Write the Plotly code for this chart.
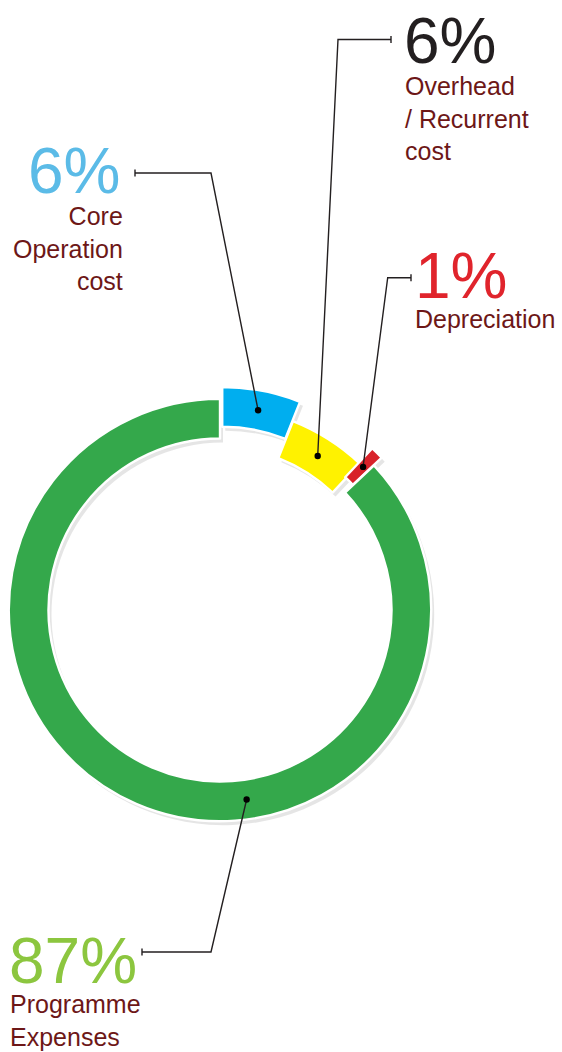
import math
import plotly.graph_objects as go

# ---------------- data ----------------
categories = ["Core Operation cost", "Overhead / Recurrent cost", "Depreciation", "Programme Expenses"]
shares = [6, 6, 1, 87]
pct_labels = ["6%", "6%", "1%", "87%"]
name_labels = ["Core<br>Operation<br>cost", "Overhead<br>/ Recurrent<br>cost", "Depreciation", "Programme<br>Expenses"]

# ---------------- style ----------------
slice_colors = ["#00aeef", "#fff200", "#d8222a", "#34a84b"]
pct_colors = ["#5bbbe7", "#231f20", "#e0242c", "#8cc63f"]
name_color = "#6d1717"
line_color = "#231f20"

W, H = 562, 1052
CX, CY = 220, 610          # ring centre (px)
R_OUT = 211.2              # pie radius (px)
HOLE = 0.812
ROT = 0
SHIFT = [12, -9, 11, 0]    # radial offset of each segment (px)
LW = 2.4
SHADOW = (3, 4)
GREEN_DOT_ANGLE = 172

PCT_FONT = "Liberation Sans Narrow, Arial Narrow, Liberation Sans, Arial"
NAME_FONT = "Liberation Sans, Arial"
PCT_SIZE = 64
NAME_SIZE = 25

# label layout: (pct anchor x, pct baseline, name anchor x, first name baseline, side)
label_pos = [
    (123, 193, 125, 225, "right"),
    (402, 63, 403, 95, "left"),
    (413, 298, 412.5, 328, "left"),
    (7, 983, 8, 1013, "left"),
]
# leader: (end x, y, corner x)
leaders = [
    (135, 173, 211),
    (391, 39.5, 338),
    (411, 277.7, 387.7),
    (142, 952, 211),
]


def fx(x):
    return x / W


def fy(y):
    return 1 - y / H


total = sum(shares)
starts, mids = [], []
acc = 0
for v in shares:
    starts.append(ROT + 360 * acc / total)
    mids.append(ROT + 360 * (acc + v / 2) / total)
    acc += v

fig = go.Figure()
centres = []
for i in range(len(shares)):
    a = math.radians(mids[i])
    cx = CX + SHIFT[i] * math.sin(a)
    cy = CY - SHIFT[i] * math.cos(a)
    centres.append((cx, cy))


def add_pie(i, cx, cy, color, lw, lcolor):
    cols = [color if j == i else "rgba(0,0,0,0)" for j in range(len(shares))]
    lcols = [lcolor if j == i else "rgba(0,0,0,0)" for j in range(len(shares))]
    fig.add_trace(go.Pie(
        labels=categories, values=shares, sort=False, direction="clockwise",
        rotation=ROT, hole=HOLE,
        domain=dict(x=[fx(cx - R_OUT), fx(cx + R_OUT)], y=[fy(cy + R_OUT), fy(cy - R_OUT)]),
        marker=dict(colors=cols, line=dict(color=lcols, width=lw)),
        textinfo="none", hoverinfo="skip", showlegend=False,
    ))


# shadows
for i in range(len(shares)):
    cx, cy = centres[i]
    add_pie(i, cx + SHADOW[0], cy + SHADOW[1], "rgba(0,0,0,0.10)", 0, "rgba(0,0,0,0)")
# segments
for i in range(len(shares)):
    cx, cy = centres[i]
    add_pie(i, cx, cy, slice_colors[i], LW, "white")

shapes = []
annotations = []
r_mid = R_OUT * (1 + HOLE) / 2
for i in range(len(shares)):
    ang = mids[i] if i < 3 else GREEN_DOT_ANGLE
    a = math.radians(ang)
    cx, cy = centres[i]
    dx = cx + r_mid * math.sin(a)
    dy = cy - r_mid * math.cos(a)
    ex, ey, kx = leaders[i]
    shapes.append(dict(type="path", xref="paper", yref="paper",
                       path=f"M {fx(dx)} {fy(dy)} L {fx(kx)} {fy(ey)} L {fx(ex)} {fy(ey)}",
                       line=dict(color=line_color, width=1.4)))
    shapes.append(dict(type="line", xref="paper", yref="paper",
                       x0=fx(ex), x1=fx(ex), y0=fy(ey - 3.5), y1=fy(ey + 3.5),
                       line=dict(color=line_color, width=1.4)))
    rr = 3.2
    shapes.append(dict(type="circle", xref="paper", yref="paper",
                       x0=fx(dx - rr), x1=fx(dx + rr), y0=fy(dy + rr), y1=fy(dy - rr),
                       fillcolor="black", line=dict(width=0)))

    px_, pb, nx, nb, side = label_pos[i]
    annotations.append(dict(
        text=pct_labels[i], xref="paper", yref="paper", showarrow=False,
        x=fx(px_), y=fy(pb + 2 + 0.212 * PCT_SIZE), xanchor=side, yanchor="bottom",
        font=dict(family=PCT_FONT, size=PCT_SIZE, color=pct_colors[i])))
    annotations.append(dict(
        text=name_labels[i], xref="paper", yref="paper", showarrow=False,
        x=fx(nx), y=fy(nb - 2 - 0.905 * NAME_SIZE), xanchor=side, yanchor="top", align=side,
        font=dict(family=NAME_FONT, size=NAME_SIZE, color=name_color)))

fig.update_layout(
    width=W, height=H, autosize=False,
    margin=dict(l=0, r=0, t=0, b=0),
    paper_bgcolor="white", plot_bgcolor="white",
    shapes=shapes, annotations=annotations,
)

fig.write_html("out.html", config={"displayModeBar": False},
               post_script="document.body.style.margin='0px';document.body.style.overflow='hidden';")
